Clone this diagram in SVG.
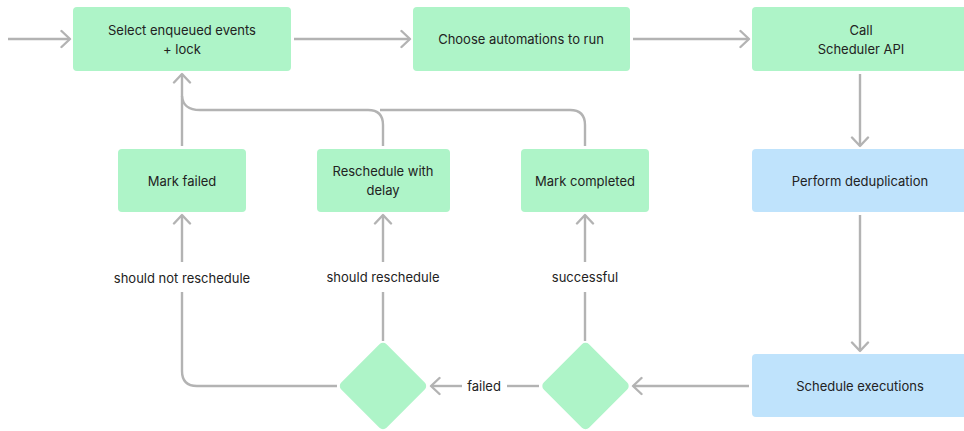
<svg xmlns="http://www.w3.org/2000/svg" width="964" height="431" viewBox="0 0 964 431">
<defs>
<marker id="ah" markerWidth="20" markerHeight="20" refX="10" refY="10" orient="auto" markerUnits="userSpaceOnUse">
<path d="M1.5,2 L10,10 L1.5,18" fill="none" stroke="#b3b3b3" stroke-width="2.4" stroke-linecap="round" stroke-linejoin="round"/>
</marker>
</defs>
<style>
.g{fill:#aef4c8}
.b{fill:#bfe3fc}
.t{font-family:Inter,"Noto Sans","Liberation Sans",sans-serif;font-size:13px;fill:#222;text-anchor:middle;dominant-baseline:central}
.c{fill:none;stroke:#b3b3b3;stroke-width:2.4}
.a{marker-end:url(#ah)}
</style>
<rect width="964" height="431" fill="#fff"/>
<g id="connectors">
<path class="c a" d="M8,39 H70"/>
<path class="c a" d="M294,39 H410"/>
<path class="c a" d="M633,39 H749"/>
<path class="c a" d="M860,74 V146"/>
<path class="c a" d="M860,215 V351"/>
<path class="c a" d="M749,386 H633"/>
<path class="c" d="M539,386 H507"/>
<path class="c a" d="M462,386 H431"/>
<path class="c" d="M585,341 V292"/>
<path class="c a" d="M585,262 V215"/>
<path class="c" d="M383,341 V292"/>
<path class="c a" d="M383,262 V215"/>
<path class="c" d="M337,386 H197 Q182,386 182,371 V292"/>
<path class="c a" d="M182,262 V215"/>
<path class="c a" d="M182,146 V74"/>
<path class="c" d="M383,146 V125 Q383,110 368,110 H200 Q183,110 182,96"/>
<path class="c" d="M585,146 V125 Q585,110 570,110 H380"/>
<text class="t" x="484" y="386">failed</text>
<text class="t" x="585" y="277">successful</text>
<text class="t" x="383" y="277">should reschedule</text>
<text class="t" x="182" y="278">should not reschedule</text>
</g>
<g id="select">
<rect class="g" x="73" y="7" width="218" height="64" rx="4"/>
<text class="t" x="182" y="30">Select enqueued events</text>
<text class="t" x="182" y="49">+ lock</text>
</g>
<g id="choose">
<rect class="g" x="413" y="7" width="217" height="64" rx="4"/>
<text class="t" x="521" y="39">Choose automations to run</text>
</g>
<g id="call">
<rect class="g" x="752" y="7" width="218" height="64" rx="4"/>
<text class="t" x="861" y="30">Call</text>
<text class="t" x="861" y="49">Scheduler API</text>
</g>
<g id="dedup">
<rect class="b" x="752" y="149" width="218" height="63" rx="4"/>
<text class="t" x="860" y="181">Perform deduplication</text>
</g>
<g id="schedule">
<rect class="b" x="752" y="354" width="218" height="63" rx="4"/>
<text class="t" x="860" y="386">Schedule executions</text>
</g>
<g id="markfailed">
<rect class="g" x="118" y="149" width="128" height="63" rx="4"/>
<text class="t" x="182" y="181">Mark failed</text>
</g>
<g id="reschedule">
<rect class="g" x="317" y="149" width="133" height="63" rx="4"/>
<text class="t" x="383" y="171">Reschedule with</text>
<text class="t" x="383" y="190">delay</text>
</g>
<g id="markcompleted">
<rect class="g" x="521" y="149" width="128" height="63" rx="4"/>
<text class="t" x="585" y="181">Mark completed</text>
</g>
<g id="decision1">
<rect class="g" x="351" y="354" width="64" height="64" rx="5" transform="rotate(45 383 386)"/>
</g>
<g id="decision2">
<rect class="g" x="553.5" y="354" width="64" height="64" rx="5" transform="rotate(45 585.5 386)"/>
</g>
</svg>
